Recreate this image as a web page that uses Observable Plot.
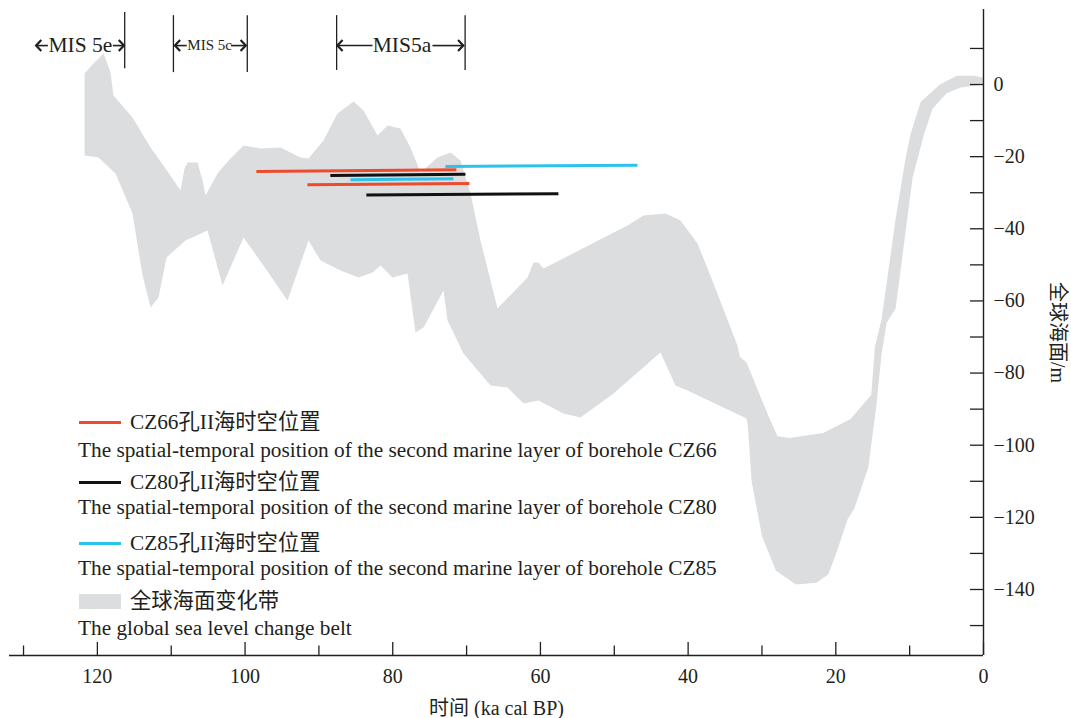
<!DOCTYPE html>
<html><head><meta charset="utf-8">
<script src="https://cdn.jsdelivr.net/npm/d3@7"></script>
<script src="https://cdn.jsdelivr.net/npm/@observablehq/plot@0.6"></script>
<style>
body{margin:0;background:#fff;}
#wrap{position:relative;width:1071px;height:718px;font-family:"Liberation Serif","Noto Sans CJK SC",serif;color:#231f20;}
.lg{position:absolute;left:0;top:0;font-size:21.3px;line-height:24px;white-space:nowrap;}
.sw{position:absolute;}
</style></head><body><div id="wrap"></div>
<script>
// ---- data (ka cal BP, metres) ----
const beltUpper = [[121.74,3.05],[120.66,5.54],[119.17,8.59],[118.22,3.33],[117.82,-3.05],[115.24,-9.15],[112.80,-17.47],[110.77,-23.29],[108.74,-29.39],[108.20,-23.29],[107.79,-21.62],[106.44,-21.62],[105.76,-26.61],[105.36,-30.77],[103.73,-24.67],[101.97,-20.52],[100.21,-16.91],[97.91,-17.74],[95.20,-17.47],[92.49,-20.24],[91.41,-20.52],[89.38,-15.53],[87.48,-8.04],[85.31,-4.71],[83.96,-7.21],[82.06,-14.14],[80.71,-11.37],[78.95,-12.20],[77.60,-17.47],[76.24,-24.40],[75.16,-22.46],[73.94,-20.24],[72.18,-18.85],[70.83,-21.07],[69.47,-30.22],[68.12,-43.24],[65.81,-62.07],[61.75,-53.51],[60.94,-49.35],[60.26,-49.35],[59.58,-51.01],[48.21,-39.09],[46.04,-36.32],[43.06,-35.76],[41.03,-37.70],[38.73,-44.08],[36.56,-55.17],[33.3,-72.5],[33.0,-75.5],[32.1,-77],[30.9,-83],[29.1,-92],[27.9,-97.5],[26.3,-98],[21.7,-96.6],[18.0,-92.7],[15.2,-86.0],[14.7,-72.7],[13.8,-65.0],[11.9,-37.3],[10.6,-21.0],[9.9,-13.9],[8.5,-4.8],[5.9,0],[3.6,2.4],[1.3,2.4],[0,1.9]];
const beltLower = [[121.74,-19.68],[119.85,-20.24],[117.54,-24.67],[115.24,-35.76],[113.93,-52.40],[112.80,-61.82],[111.72,-59.05],[110.64,-47.96],[108.07,-43.24],[105.08,-40.48],[103.05,-55.72],[100.21,-42.42],[97.23,-51.01],[94.25,-59.88],[91.41,-43.24],[89.78,-48.79],[87.07,-51.57],[84.64,-53.51],[82.74,-52.12],[81.66,-50.18],[80.04,-53.51],[78.00,-52.40],[76.92,-68.75],[75.83,-67.37],[73.13,-57.11],[72.58,-65.43],[70.42,-74.58],[66.76,-83.45],[64.46,-84.00],[62.29,-88.44],[60.26,-87.61],[56.88,-91.21],[54.57,-92.32],[50.10,-85.67],[46.85,-79.84],[43.74,-74.30],[41.71,-83.45],[40.08,-84.83],[32.09,-92.60],[31.9,-95],[31.4,-110],[30.0,-125.2],[28.1,-134.8],[25.4,-138.6],[22.6,-138.1],[21.0,-135.8],[19.8,-129.1],[18.4,-120.5],[17.5,-117.6],[15.6,-106.1],[14.5,-88.9],[13.8,-74.6],[13.1,-66.0],[11.9,-62.1],[9.6,-25.8],[8.0,-13.4],[6.9,-6.7],[5.0,-2.4],[3.1,-0.8],[0,0]];

const boreholes = ["CZ66","CZ80","CZ85"];
const boreColors = ["#ee4a2e","#111111","#2bc2ec"];
const segBorehole = ["CZ66","CZ80","CZ85","CZ85","CZ66","CZ80"];
const segStartKa  = [98.47, 88.45, 72.87, 85.74, 91.56, 83.57];
const segEndKa    = [71.38, 70.16, 46.86, 71.79, 69.62, 57.56];
const segStartM   = [-24.12,-25.23,-22.73,-26.42,-27.81,-30.63];
const segEndM     = [-23.65,-24.87,-22.37,-26.14,-27.45,-30.25];

const misLabels = ["MIS 5e","MIS 5c","MIS5a"];
const misLabelKa = [122.3, 104.8, 78.75];
const misLabelSize = [21.5, 15, 21.5];
const misBoundKa = [116.3, 109.7, 99.7, 87.6, 70.2];
const misBoundTop = [20.0, 19.1, 19.1, 19.1, 19.1];
const misBoundBottom = [4.4, 3.3, 3.3, 3.9, 3.9];
const misArrowFrom = [126.7, 117.9, 107.9, 101.9, 82.74, 74.62];
const misArrowTo   = [128.3, 116.4, 109.5, 99.9, 87.5, 70.45];
const misY = 10.8;

const xMajor = [0,20,40,60,80,100,120];
const xMinor = [10,30,50,70,90,110,130];
const yMajor = [0,-20,-40,-60,-80,-100,-120,-140];
const yAll = d3.range(-150, 11, 10);

const legendCn = ["CZ66孔II海时空位置","CZ80孔II海时空位置","CZ85孔II海时空位置","全球海面变化带"];
const legendEn = ["The spatial-temporal position of the second marine layer of borehole CZ66",
  "The spatial-temporal position of the second marine layer of borehole CZ80",
  "The spatial-temporal position of the second marine layer of borehole CZ85",
  "The global sea level change belt"];

const xLabel = "时间 (ka cal BP)";
const yLabel = "全球海面/m";

// ---- build ----
const ink = "#231f20";
const polygon = beltUpper.concat(beltLower.slice().reverse()).map(([x,y])=>({x,y}));
const segs = segBorehole.map((b,i)=>({b, x1:segStartKa[i], x2:segEndKa[i], y1:segStartM[i], y2:segEndM[i]}));
const bounds = misBoundKa.map((x,i)=>({x, y1:misBoundBottom[i], y2:misBoundTop[i]}));
const arrows = misArrowFrom.map((x,i)=>({x1:x, x2:misArrowTo[i], rot: misArrowTo[i] > x ? 0 : 180}));
const fmt = d => d < 0 ? "\u2212" + Math.abs(d) : String(d);
const chevron = {draw(ctx, size){ const r = Math.sqrt(size/Math.PI); ctx.moveTo(r*0.95, -r); ctx.lineTo(0,0); ctx.lineTo(r*0.95, r); }};

const W=1071,H=718,mL=9,mR=88,mT=9,mB=63;
const fw = W-mL-mR, fh = H-mT-mB;

const chart = Plot.plot({
  width:W, height:H, marginLeft:mL, marginRight:mR, marginTop:mT, marginBottom:mB,
  x:{domain:[131.9,0]},
  y:{domain:[-158.3,20.8]},
  color:{domain:boreholes, range:boreColors},
  style:{fontFamily:"'Liberation Serif','Noto Sans CJK SC',serif", fontSize:"20px", color:ink, background:"transparent", overflow:"visible"},
  marks:[
    Plot.line(polygon,{x:"x",y:"y",fill:"#dcdddf",stroke:"none"}),
    Plot.link(segs,{x1:"x1",x2:"x2",y1:"y1",y2:"y2",stroke:"b",strokeWidth:3}),
    Plot.ruleX(bounds,{x:"x",y1:"y1",y2:"y2",stroke:ink,strokeWidth:1.3}),
    Plot.link(arrows,{x1:"x1",x2:"x2",y1:misY,y2:misY,stroke:ink,strokeWidth:1.6}),
    Plot.dot(arrows,{x:"x2",y:misY,symbol:chevron,r:5.5,rotate:"rot",fill:"none",stroke:ink,strokeWidth:2.2}),
    Plot.text([0,1,2],{x:i=>misLabelKa[i],y:misY,text:i=>misLabels[i],fontSize:i=>misLabelSize[i],fill:ink}),
    Plot.tickX(xMajor,{x:d=>d,insetTop:fh-13,stroke:ink,strokeWidth:1.3}),
    Plot.tickX(xMinor,{x:d=>d,insetTop:fh-9.5,stroke:ink,strokeWidth:1.3}),
    Plot.tickY(yAll,{y:d=>d,insetLeft:fw-13,stroke:ink,strokeWidth:1.3}),
    Plot.ruleY([-158.3],{stroke:ink,strokeWidth:1.4}),
    Plot.ruleX([0],{stroke:ink,strokeWidth:1.4}),
    Plot.axisX({ticks:xMajor,tickSize:0,tickPadding:13,label:null,fontSize:20,tickFormat:fmt}),
    Plot.axisY({anchor:"right",ticks:yMajor,tickSize:0,tickPadding:10,label:null,fontSize:20,tickFormat:fmt}),
    Plot.text([xLabel],{text:d=>d,frameAnchor:"bottom",dy:53,textAnchor:"middle",lineAnchor:"middle",fontSize:20,fill:ink}),
    Plot.text([yLabel],{text:d=>d,frameAnchor:"right",dx:74,rotate:90,textAnchor:"middle",lineAnchor:"middle",fontSize:20,fill:ink})
  ]
});
const wrap = document.getElementById("wrap");
wrap.appendChild(chart);

// ---- legend (HTML overlay) ----
const rowsCn = [422,482,543,601], rowsEn=[450,507,568,628];
function add(txt, left, cy){
  const d=document.createElement("div"); d.className="lg"; d.textContent=txt;
  d.style.left=left+"px"; d.style.top=(cy-12)+"px"; wrap.appendChild(d);
}
legendCn.forEach((t,i)=>{
  const s=document.createElement("div"); s.className="sw";
  s.style.left="79px"; s.style.width="42px";
  if(i<3){ s.style.top=(rowsCn[i]-1.5)+"px"; s.style.height="3px"; s.style.background=boreColors[i]; }
  else { s.style.top=(rowsCn[i]-7.5)+"px"; s.style.height="15px"; s.style.background="#dcdddf"; }
  wrap.appendChild(s);
  add(t,130,rowsCn[i]);
  add(legendEn[i],78,rowsEn[i]);
});
</script></body></html>
